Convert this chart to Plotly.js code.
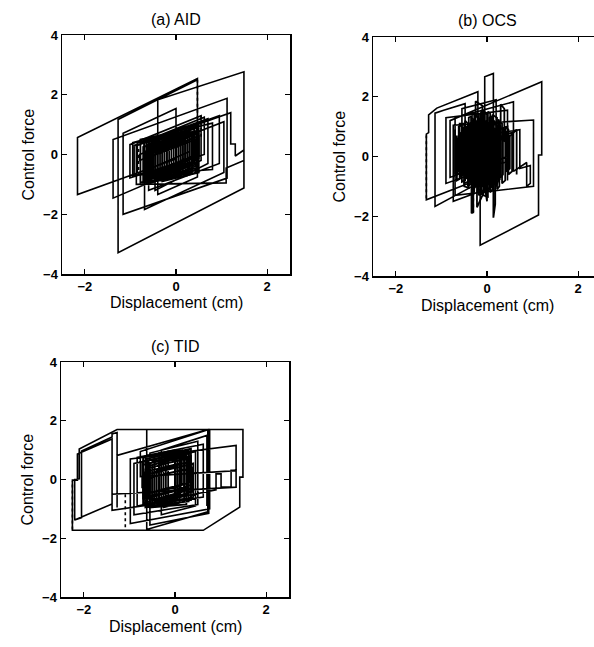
<!DOCTYPE html>
<html><head><meta charset="utf-8">
<script src="https://cdn.plot.ly/plotly-3.0.1.min.js"></script>
<style>html,body{margin:0;padding:0;overflow:hidden;background:#fff}#chart{width:610px;height:647px}</style>
</head><body><div id="chart"></div>
<script>
// ---- data (displacement cm, control force) ----
const panelTitles = ['(a) AID', '(b) OCS', '(c) TID'];
const xTicks = [-2, 0, 2];
const yTicks = [-4, -2, 0, 2, 4];

const aidOuter = [
 [0.3,0.1],[-0.69,-0.55],[-0.69,0.43],[0.62,1.25],[0.62,0.0],[-1.01,-0.78],[-1.01,0.33],[0.55,1.3],[0.55,-0.2],
 [-1.38,-1.46],[-1.38,0.5],[1.12,1.88],[1.12,-0.79],[-1.16,-2.0],[-1.16,0.71],[0.0,1.54],[0.0,-0.15],
 [-2.16,-1.34],[-2.16,0.57],[0.47,2.54],[0.47,-0.75],[-0.4,-1.34],[-0.4,1.83],[1.49,2.77],[1.49,-1.12],
 [-1.27,-3.29],[-1.27,1.17],[0.47,2.5],[0.47,0.6],[-0.8,-0.2],[-0.8,0.0],[1.05,1.1],[1.05,-0.6],
 [-0.69,-1.84],[-0.69,0.43],[0.7,1.2],[0.7,-0.3],[-0.46,-1.2],[-0.46,0.5],[1.2,1.4],[1.2,0.35],[1.3,0.35],
 [1.3,-0.05],[1.49,0.15],[1.49,-0.2],[1.1,-0.45],[1.1,-0.95],[-0.87,-1.0],[-0.87,0.3],[0.95,1.3],[0.95,-0.3],
 [-0.6,-1.2],[-0.6,0.55],[0.8,1.05],[0.8,-0.5],[-0.95,-0.7],[-0.95,0.4],[0.5,1.0],[0.5,-0.15]
];
const aidCore = [
 [-0.7,-0.69],[-0.7,0.0],[0.45,0.69],[0.45,0.0],[-0.5,-0.57],[-0.5,0.1],[0.3,0.58],[0.3,-0.15],
 [-0.65,-0.72],[-0.65,0.05],[0.4,0.68],[0.4,-0.05],[-0.3,-0.47],[-0.3,0.2],[0.2,0.5],[0.2,-0.2],
 [-0.55,-0.65],[-0.55,0.15],[0.35,0.69],[0.35,-0.1],[-0.7,-0.73],[-0.7,-0.05],[0.1,0.43],[0.1,-0.35],
 [-0.45,-0.68],[-0.45,0.05],[0.5,0.62],[0.5,-0.05],[-0.2,-0.47],[-0.2,0.3],[0.3,0.6],[0.3,-0.25],
 [-0.6,-0.79],[-0.6,-0.1],[0.25,0.41],[0.25,-0.35],[-0.4,-0.74],[-0.4,0.25],[0.45,0.76],[0.45,-0.2],
 [-0.1,-0.53],[-0.1,0.35],[0.15,0.5],[0.15,-0.3],[-0.68,-0.8],[-0.68,0.1],[0.05,0.54],[0.05,-0.3],
 [-0.35,-0.54],[-0.35,0.4],[0.3,0.79],[0.3,-0.1],[-0.6,-0.64],[-0.6,0.2],[0.2,0.68],[0.2,-0.45],
 [-0.25,-0.72],[-0.25,0.1],[0.42,0.5],[0.42,-0.4],[-0.55,-0.95],[-0.55,0.3],[0.38,0.72],[0.38,-0.3],
 [-0.62,-0.85],[-0.62,0.35],[0.0,0.7],[0.0,-0.45],[-0.52,-0.8],[-0.52,0.45],[0.48,0.8],[0.48,-0.5],
 [-0.15,-0.7],[-0.15,0.45],[0.35,0.62],[0.35,-0.55],[-0.72,-0.95],[-0.72,0.25],[0.1,0.65],[0.1,-0.15]
];
const aidCore2 = [
 [-0.85,-0.6],[-0.85,0.4],[0.2,0.8],[0.2,-0.3],[-0.92,-0.7],[-0.92,0.3],[0.4,0.85],[0.4,-0.35],
 [-0.78,-0.95],[-0.78,0.5],[0.1,0.75],[0.1,-0.55],[-0.5,-0.7],[-0.5,0.55],[0.5,0.75],[0.5,-0.6],
 [-0.3,-0.9],[-0.3,0.6],[0.25,0.75],[0.25,-0.7],[-0.65,-0.95],[-0.65,0.45],[0.45,0.9],[0.45,-0.45],
 [-0.05,-0.65],[-0.05,0.6],[0.35,0.75],[0.35,-0.6],[-0.45,-0.85],[-0.45,0.6],[0.0,0.75],[0.0,-0.7],
 [-0.7,-0.85],[-0.7,0.4],[0.3,0.7],[0.3,-0.5],[-0.2,-0.75],[-0.2,0.5],[0.15,0.6],[0.15,-0.65],
 [-0.58,-0.8],[-0.58,0.55]
];
const aidDotted = [[0.47,2.5],[0.47,0.6],[null,null],[0.55,1.3],[0.55,0.55],[null,null],[-0.82,-0.72],[-0.82,0.3]];

const ocsOuter = [
 [0.0,0.0],[-0.2,-0.2],[-0.2,-0.78],[-1.33,-1.45],[-1.33,0.75],[-1.28,0.8],[-1.28,1.39],[-1.1,1.62],[-0.2,2.17],
 [-0.2,-0.9],[-1.14,-1.67],[-1.14,1.45],[-0.95,1.55],[-0.48,1.77],[-0.48,-0.5],[-0.81,-0.7],[-0.81,1.2],
 [1.2,2.5],[1.2,0.05],[1.13,0.05],[1.13,-1.96],[-0.15,-2.97],[-0.15,-0.6],[-0.05,-0.5],[-0.05,2.67],
 [0.14,2.78],[0.14,-1.0],[-0.74,-1.5],[-0.74,1.05],[1.02,1.22],[1.02,-1.0],[-0.7,-1.3],[-0.7,1.3],
 [0.58,1.83],[0.58,-0.5],[0.87,-0.2],[0.87,-1.0],[0.95,-0.9],[0.95,-0.3],[0.72,-0.4],[0.72,0.9],
 [-0.55,0.6],[-0.55,1.6],[0.2,1.9],[0.2,-0.3],[-0.9,-0.9],[-0.9,1.3],[0.45,1.55],[0.45,-0.8]
];
const ocsCore = [
 [-0.7,0.9],[-0.7,-0.6],[-0.62,-0.5],[-0.62,1.0],[-0.55,1.05],[-0.55,-0.85],[-0.48,-0.8],[-0.48,1.2],
 [-0.42,1.1],[-0.42,-1.0],[-0.35,-0.9],[-0.35,1.3],[-0.3,1.25],[-0.3,-1.1],[-0.25,-1.0],[-0.25,1.4],
 [-0.2,1.3],[-0.2,-1.2],[-0.15,-1.1],[-0.15,1.45],[-0.1,1.4],[-0.1,-1.0],[-0.05,-0.95],[-0.05,1.5],
 [0.0,1.4],[0.0,-1.2],[0.05,-1.1],[0.05,1.3],[0.1,1.35],[0.1,-0.9],[0.15,-0.95],[0.15,1.2],
 [0.2,1.1],[0.2,-1.0],[0.25,-0.8],[0.25,1.25],[0.3,1.0],[0.3,-0.7],[0.35,-0.6],[0.35,0.95],
 [0.42,0.8],[0.42,-0.5],[0.5,-0.4],[0.5,0.7],[-0.6,0.2],[-0.6,-0.3],[0.3,0.4],[0.3,-0.4],
 [-0.5,-0.9],[-0.5,0.5],[0.45,1.0],[0.45,0.0],[-0.65,-0.6],[-0.65,0.6],[0.2,1.1],[0.2,0.1],
 [-0.58,0.8],[-0.58,-0.7],[-0.52,-0.6],[-0.52,0.95],[-0.45,1.0],[-0.45,-0.7],[-0.38,-0.85],[-0.38,1.1],
 [-0.32,1.2],[-0.32,-0.8],[-0.27,-0.9],[-0.27,1.1],[-0.22,1.2],[-0.22,-0.9],[-0.17,-1.0],[-0.17,1.3],
 [-0.12,1.2],[-0.12,-1.3],[-0.07,-1.2],[-0.07,1.1],[-0.02,1.2],[-0.02,-1.0],[0.03,-0.9],[0.03,1.15],
 [0.08,1.1],[0.08,-1.05],[0.13,-0.8],[0.13,1.0],[0.18,0.9],[0.18,-0.85],[0.23,-0.7],[0.23,1.05],
 [0.28,0.85],[0.28,-0.75],[-0.34,-0.5],[-0.34,-1.9],[-0.3,-1.85],[-0.3,-0.6],[-0.22,-0.6],[-0.22,-1.7],
 [0.14,-0.5],[0.14,-2.05],[0.18,-1.6],[0.18,-0.4],[0.0,-0.6],[0.0,-1.5],[-0.25,1.0],[-0.25,1.85],
 [-0.1,1.7],[-0.1,0.8],[0.3,1.2],[0.3,1.75],[0.38,1.6],[0.38,0.5],[0.65,0.9],[0.65,-0.6]
];
const ocsCore2 = [
 [-0.66,0.7],[-0.66,-0.8],[-0.6,-0.75],[-0.6,1.1],[-0.5,1.1],[-0.5,-1.0],[-0.4,-1.05],[-0.4,1.3],
 [-0.33,1.35],[-0.33,-1.15],[-0.28,-1.2],[-0.28,1.45],[-0.18,1.4],[-0.18,-1.3],[-0.13,-1.25],[-0.13,1.5],
 [-0.08,1.55],[-0.08,-1.3],[0.02,-1.35],[0.02,1.5],[0.07,1.45],[0.07,-1.2],[0.12,-1.1],[0.12,1.4],
 [0.22,1.3],[0.22,-1.1],[0.27,-1.0],[0.27,1.15],[0.33,1.1],[0.33,-0.9],[0.4,-0.8],[0.4,1.0],
 [0.47,0.9],[0.47,-0.6],[0.55,-0.5],[0.55,0.8],[-0.45,0.3],[0.4,0.6],[0.4,-0.2],[-0.6,-0.4]
];
const ocsDotted = [[-1.33,-1.4],[-1.33,0.7],[null,null],[-0.3,-1.9],[-0.3,-1.0]];

const tidOuter = [
 [-2.2,-1.4],[-2.2,0.0],[-2.1,0.02],[-2.1,1.04],[-1.27,1.7],[1.49,1.7],[1.49,0.08],[1.42,0.08],
 [1.42,-0.94],[0.62,-1.73],[-2.25,-1.73],[-2.25,-0.02],[-2.14,-0.02],[-2.14,0.87],[-1.38,1.38],
 [-1.38,-0.83],[-2.2,-1.38],[-2.05,-1.3],[-2.05,0.97],[-1.38,1.45],[-1.38,1.55],[-1.27,1.6],
 [-1.27,-0.95],[-1.27,0.82],[0.72,1.7],[0.72,-1.1],[-0.62,-1.7],[-0.62,1.7],[0.76,1.7],[0.76,-1.0],
 [-0.98,-1.5],[-0.98,0.7],[1.34,1.16],[1.34,0.31],[1.23,0.31],[1.23,-0.26],[1.01,-0.26],[1.01,0.19],
 [0.9,0.19],[0.9,-0.35],[-0.83,-0.9],[-0.83,0.75],[0.62,1.2],[0.62,-0.6],[-1.38,-1.05],[-1.38,-0.5],
 [1.34,-0.26],[1.34,0.3],[-0.76,0.1],[-0.76,0.95],[0.74,1.7],[0.74,-1.15],[-0.55,-1.55],[-0.55,0.9],
 [0.5,1.3],[0.5,-0.85],[-0.9,-1.2],[-0.9,0.55],[0.45,0.95],[0.45,-0.9],[-0.3,-1.2],[-0.3,1.0],[0.7,1.5],[0.7,-0.9]
];
const tidCore = [
 [-0.7,-0.5],[-0.7,0.5],[0.35,0.9],[0.35,-0.2],[-0.6,-0.6],[-0.6,0.45],[0.25,0.8],[0.25,-0.3],
 [-0.65,-0.65],[-0.65,0.35],[0.3,0.75],[0.3,-0.35],[-0.5,-0.7],[-0.5,0.6],[0.2,0.88],[0.2,-0.4],
 [-0.68,-0.8],[-0.68,0.25],[0.1,0.55],[0.1,-0.5],[-0.45,-0.75],[-0.45,0.7],[0.33,0.95],[0.33,-0.1],
 [-0.55,-0.45],[-0.55,0.55],[0.0,0.75],[0.0,-0.6],[-0.4,-0.75],[-0.4,0.3],[0.3,0.6],[0.3,-0.5],
 [-0.62,-0.85],[-0.62,0.7],[0.15,1.0],[0.15,-0.2],[-0.3,-0.4],[-0.3,0.8],[0.25,1.0],[0.25,-0.65],
 [-0.7,-0.85],[-0.7,0.15],[0.05,0.45],[0.05,-0.7],[-0.2,-0.8],[-0.2,0.85],[0.35,1.05],[0.35,-0.3],
 [-0.58,-0.55],[-0.58,0.65],[0.12,0.9],[0.12,-0.6],[-0.35,-0.7],[-0.35,0.5],[0.28,0.7],[0.28,-0.55]
];
const tidCore2 = [
 [-0.72,-0.3],[-0.72,0.6],[0.2,0.95],[0.2,-0.75],[-0.5,-0.95],[-0.5,0.2],[0.4,0.55],[0.4,-0.6],
 [-0.65,-0.95],[-0.65,0.8],[0.1,1.0],[0.1,-0.8],[-0.35,-0.9],[-0.35,0.9],[0.3,1.0],[0.3,-0.75],
 [-0.6,-0.9],[-0.6,0.05],[0.38,0.4],[0.38,-0.4],[-0.45,-0.8],[-0.45,0.85],[0.0,1.0],[0.0,-0.85],
 [-0.25,-0.95],[-0.25,0.6],[0.35,0.8],[0.35,-0.7],[-0.7,-0.65],[-0.7,0.75],[0.05,0.95],[0.05,-0.45],
 [-0.15,-0.6],[-0.15,0.95],[0.25,0.9],[0.25,-0.85],[-0.55,-0.95],[-0.55,0.35]
];
const tidDotted = [[-1.09,-0.5],[-1.09,-1.73],[null,null],[-2.25,-1.7],[-2.25,-0.05]];

// ---- geometry (fractions of the paper) ----
const W = 610, H = 647;
const boxes = [
  {x0:62, x1:290, y0:35, y1:274},
  {x0:373, x1:601, y0:37, y1:276},
  {x0:61, x1:289, y0:362, y1:597}
];
const fx = p => p / W, fy = p => 1 - p / H;

const paths = [
  [aidOuter, aidCore, aidCore2, aidDotted],
  [ocsOuter, ocsCore, ocsCore2, ocsDotted],
  [tidOuter, tidCore, tidCore2, tidDotted]
];
const traces = [];
paths.forEach((set, i) => {
  const xa = i === 0 ? 'x' : 'x' + (i + 1), ya = i === 0 ? 'y' : 'y' + (i + 1);
  set.forEach((pts, j) => {
    const dotted = j === 3;
    traces.push({
      x: pts.map(p => p[0]), y: pts.map(p => p[1]), xaxis: xa, yaxis: ya,
      type: 'scatter', mode: 'lines', hoverinfo: 'skip', connectgaps: false,
      line: {color: 'black', width: dotted ? 1.6 : (j === 0 ? 1.6 : 1.8), dash: dotted ? 'dot' : 'solid'}
    });
  });
});

const tickFont = {family: 'Liberation Sans, Arial, sans-serif', size: 13, color: 'black', weight: 'bold'};
function axis(dom, anchor, range, vals) {
  return {domain: dom, anchor: anchor, range: range, tickvals: vals, showgrid: false, zeroline: false,
    showline: true, mirror: 'ticks', linecolor: 'black', linewidth: 1.5, ticks: 'inside', ticklen: 5,
    tickcolor: 'black', tickwidth: 1.3, tickfont: tickFont, fixedrange: true};
}
const layout = {width: W, height: H, margin: {l:0, r:0, t:0, b:0}, showlegend: false,
  paper_bgcolor: 'white', plot_bgcolor: 'white', annotations: []};
boxes.forEach((b, i) => {
  const s = i === 0 ? '' : String(i + 1);
  layout['xaxis' + s] = axis([fx(b.x0), fx(b.x1)], 'y' + s, [-2.5, 2.5], xTicks);
  layout['yaxis' + s] = axis([fy(b.y1), fy(b.y0)], 'x' + s, [-4, 4], yTicks);
  const cx = (b.x0 + b.x1) / 2;
  const lf = {family: 'Liberation Sans, Arial, sans-serif', color: 'black'};
  layout.annotations.push(
    {xref:'paper', yref:'paper', x: fx(cx), y: fy(b.y0 - 16), text: panelTitles[i], showarrow:false,
     xanchor:'center', yanchor:'middle', font: Object.assign({size: 16}, lf)},
    {xref:'paper', yref:'paper', x: fx(cx), y: fy(b.y1 + 29), text: 'Displacement (cm)', showarrow:false,
     xanchor:'center', yanchor:'middle', font: Object.assign({size: 16}, lf)},
    {xref:'paper', yref:'paper', x: fx(b.x0 - 34), y: fy((b.y0 + b.y1) / 2), text: 'Control force', showarrow:false,
     textangle: -90, xanchor:'center', yanchor:'middle', font: Object.assign({size: 16}, lf)}
  );
});
Plotly.newPlot('chart', traces, layout, {staticPlot: true, displayModeBar: false});
</script></body></html>
